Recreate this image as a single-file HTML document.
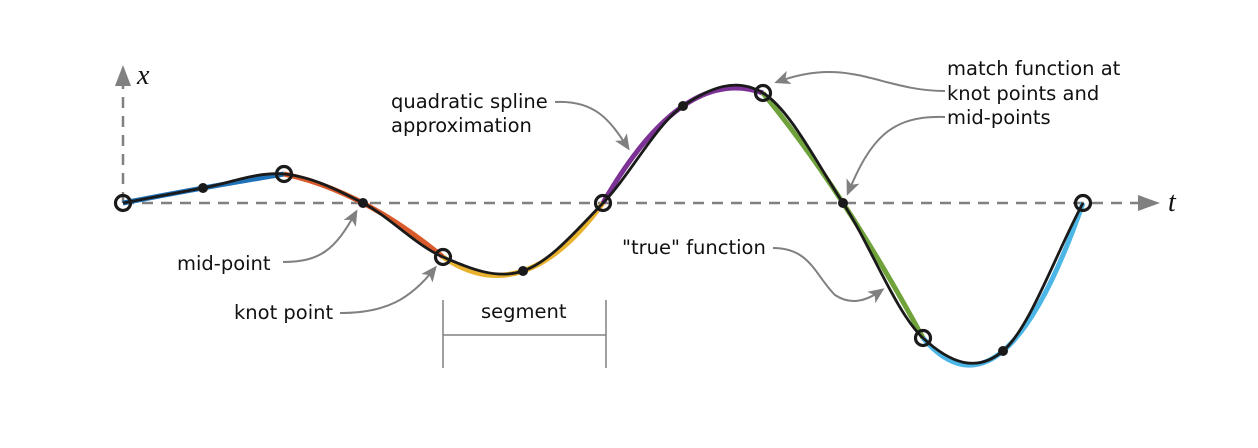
<!DOCTYPE html>
<html><head><meta charset="utf-8"><style>
html,body{margin:0;padding:0;background:#fff;}
svg{display:block;}
text{font-family:"DejaVu Sans","Liberation Sans",sans-serif;font-size:19.5px;fill:#111;}
</style></head><body>
<svg width="1258" height="448" viewBox="0 0 1258 448" xmlns="http://www.w3.org/2000/svg">
<defs>
<marker id="ah" markerWidth="16" markerHeight="14" refX="13" refY="7" orient="auto" markerUnits="userSpaceOnUse" viewBox="0 0 16 14">
<path d="M0,0 L16,7 L0,14 L4,7 Z" fill="#808080"/></marker>
</defs>
<line x1="123" y1="203" x2="1140" y2="203" stroke="#808080" stroke-width="2.5" stroke-dasharray="11,8"/>
<path d="M1138,195 L1160,203 L1138,211 Z" fill="#808080"/>
<line x1="123" y1="203" x2="123" y2="86" stroke="#808080" stroke-width="2.5" stroke-dasharray="11,8"/>
<path d="M115,86 L123,65 L131,86 Z" fill="#808080"/>
<text x="137" y="84" style="font-family:'Liberation Serif',serif;font-style:italic;font-size:28px">x</text>
<text x="1168" y="211" style="font-family:'Liberation Serif',serif;font-style:italic;font-size:28px">t</text>
<g fill="none" stroke-width="5" stroke-linecap="butt">
<path d="M123,203 Q202.5,187.5 284,174" stroke="#1f72b8"/>
<path d="M284,174 Q362.5,190.5 443,257" stroke="#d95a2b"/>
<path d="M443,257 Q523,312 603,203" stroke="#e8b22e"/>
<path d="M603,203 Q683,64 763,93" stroke="#7b3294"/>
<path d="M763,93 Q843,190.5 923,338" stroke="#6fa23a"/>
<path d="M923,338 Q1003,431.5 1083,203" stroke="#4cb6e6"/>
</g>
<path d="M123,203 C149.7,198 176.2,192.8 203,188 C229.8,183.2 257.3,171.5 284,174 C310.7,176.5 336.5,189.2 363,203 C389.5,216.8 416.3,245.7 443,257 C469.7,268.3 496.3,280 523,271 C549.7,262 576.3,230.5 603,203 C629.7,175.5 656.3,124.3 683,106 C709.7,87.7 736.3,76.8 763,93 C789.7,109.2 816.3,162.2 843,203 C869.7,243.8 896.3,313.3 923,338 C949.7,362.7 976.3,373.5 1003,351 C1029.7,328.5 1056.3,252.3 1083,203" fill="none" stroke="#1a1a1a" stroke-width="2.8"/>
<g fill="none" stroke="#1a1a1a" stroke-width="3.2">
<circle cx="123" cy="203" r="7.5"/><circle cx="284" cy="174" r="7.5"/><circle cx="443" cy="257" r="7.5"/>
<circle cx="603" cy="203" r="7.5"/><circle cx="763" cy="93" r="7.5"/><circle cx="923" cy="338" r="7.5"/><circle cx="1083" cy="203" r="7.5"/>
</g>
<g fill="#1a1a1a">
<circle cx="203" cy="188" r="5"/><circle cx="363" cy="203" r="5"/><circle cx="523" cy="271" r="5"/>
<circle cx="683" cy="106" r="5"/><circle cx="843" cy="203" r="5"/><circle cx="1003" cy="351" r="5"/>
</g>
<g fill="none" stroke="#808080" stroke-width="2" marker-end="url(#ah)">
<path d="M283,262 C320,262 335,250 356,212"/>
<path d="M340,313 C385,313 410,300 435,268"/>
<path d="M555,102 C595,100 610,120 628,148"/>
<path d="M945,91 C880,91 850,55 777,82"/>
<path d="M945,117 C890,115 870,140 848,193"/>
<path d="M773,248 C810,248 815,275 835,295 C850,305 865,302 882,290"/>
</g>
<g stroke="#808080" stroke-width="1.5">
<line x1="443" y1="300" x2="443" y2="368"/><line x1="606" y1="300" x2="606" y2="368"/>
<line x1="443" y1="335" x2="606" y2="335"/>
</g>
<text x="177" y="270">mid-point</text>
<text x="234" y="319">knot point</text>
<text x="481" y="318">segment</text>
<text x="391" y="108">quadratic spline</text>
<text x="391" y="132">approximation</text>
<text x="947" y="75">match function at</text>
<text x="947" y="100">knot points and</text>
<text x="947" y="124">mid-points</text>
<text x="622" y="254">"true" function</text>
</svg>
</body></html>
